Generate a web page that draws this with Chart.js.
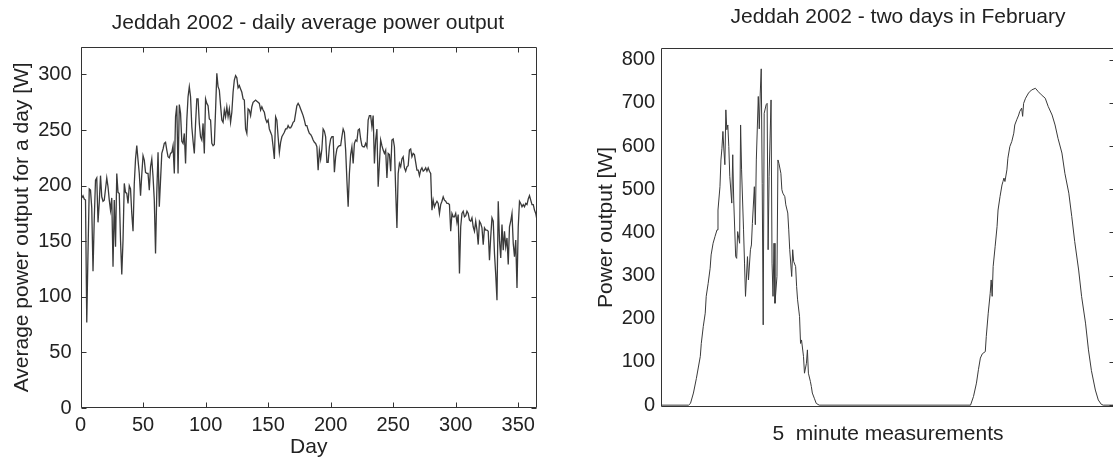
<!DOCTYPE html>
<html><head><meta charset="utf-8">
<script src="https://cdn.jsdelivr.net/npm/chart.js@4.4.1/dist/chart.umd.min.js"></script>
<style>
html,body{margin:0;padding:0;background:#fff;overflow:hidden;width:1113px;height:460px;position:relative;}
#c1{position:absolute;left:0;top:0;}
#c2{position:absolute;left:590px;top:0;}
</style></head><body>
<canvas id="c1" width="616" height="460"></canvas>
<canvas id="c2" width="616" height="460"></canvas>
<script>
// ---- Left chart: daily average power output (W), day 1..365 ----
const dailyPower = [
189,191,188,187,77,140,197,196,180,123,
170,205,207,167,185,209,190,186,187,197,
207,199,187,178,189,127,187,145,211,194,
193,151,120,151,202,194,193,184,200,197,
175,159,202,224,236,223,211,191,210,227,
223,212,211,211,196,217,224,208,187,139,
194,230,181,205,229,233,238,239,232,226,
225,229,230,236,211,262,272,211,273,265,
240,238,247,220,259,280,289,280,253,240,
229,256,278,278,256,244,241,256,229,278,
274,272,260,259,238,236,237,268,301,289,
286,272,259,257,268,262,271,262,269,257,
266,284,295,299,297,288,290,287,284,278,
277,251,247,269,268,263,271,275,276,277,
276,275,274,268,271,268,266,260,257,259,
251,248,245,235,224,262,259,244,230,239,
244,246,248,251,251,254,252,252,254,257,
258,265,272,274,272,269,266,263,259,254,
254,250,247,246,244,241,239,238,235,214,
232,224,233,251,249,244,221,221,235,242,
244,244,212,226,233,235,236,236,244,251,
248,232,205,181,211,228,235,220,238,241,
240,250,251,242,236,235,235,238,235,259,
263,263,253,263,220,241,251,199,220,241,
236,232,229,232,207,229,228,213,241,242,
235,196,162,211,220,217,224,226,216,213,
217,218,232,233,226,229,228,221,214,214,
209,214,216,213,214,216,213,216,213,211,
178,187,181,184,186,184,175,183,186,190,
187,186,184,184,183,159,175,172,172,175,
167,174,121,163,175,177,172,173,177,175,
169,168,171,163,159,168,160,147,168,166,
162,147,162,160,160,159,133,154,171,168,
139,120,97,186,151,135,165,142,159,145,
153,129,163,168,175,148,136,151,108,163,
186,184,181,183,181,184,183,188,191,187,
183,183,178,175,169
];
const days = dailyPower.map((_, i) => i + 1);
const dayTicks = [0, 50, 100, 150, 200, 250, 300, 350];
const dailyTicks = [0, 50, 100, 150, 200, 250, 300];

// ---- Right chart: two days in February, 5-minute measurements ----
const sampleIndex = [
0,28,30,33,36,40,41,43,45,46,48,50,51,53,55,57,58,60,61,62,
63,64,65,66,67,68,69,70,72,73,74,76,77,78,80,81,82,84,85,86,
88,89,91,92,93,95,96,97,99,100,101,102,103,104,105,107,108,109,110,112,
113,114,115,116,118,119,120,122,123,124,126,127,129,130,131,133,134,135,137,138,
139,141,142,143,145,146,148,149,150,152,153,154,156,158,161,
315,318,321,323,325,327,330,331,333,335,336,337,338,340,342,343,345,347,348,349,
350,352,353,355,357,359,360,362,364,365,367,368,369,371,374,377,381,384,387,391,
394,398,401,404,408,411,415,418,421,425,428,432,435,438,442,445,448,450,462
];
const samplePower = [
0,0,4,28,62,113,143,182,213,252,282,317,348,375,391,406,452,506,568,595,
634,591,557,684,638,649,599,530,468,580,475,344,340,402,375,649,545,406,329,252,
344,290,360,371,421,506,418,568,715,640,723,779,514,186,676,696,699,360,530,707,
329,252,375,236,298,568,560,537,499,491,483,464,445,406,360,298,360,333,321,275,
244,205,143,151,113,74,97,128,74,55,43,28,16,4,0,
0,20,51,82,109,119,124,159,213,259,290,252,321,367,414,452,483,510,518,526,
518,545,572,599,611,630,649,661,672,680,688,669,699,711,723,730,734,726,719,711,
692,672,649,618,584,537,491,437,379,313,252,190,128,80,35,12,2,0,0
];
const powerTicks = [0, 100, 200, 300, 400, 500, 600, 700, 800];

const TXT = '#222';
const LINE = '#3a3a3a';
Chart.defaults.font.family = "'Liberation Sans', Arial, Helvetica, sans-serif";
Chart.defaults.color = TXT;

const boxPlugin = {
  id: 'boxTicks',
  afterDraw(chart, args, o) {
    const {ctx, chartArea: a, scales} = chart;
    const l = Math.round(a.left) + 0.5, r = Math.round(a.right) - 0.5;
    const t = Math.round(a.top) + 0.5, b = Math.round(a.bottom) - 0.5;
    ctx.save();
    ctx.strokeStyle = o.color;
    ctx.lineWidth = 1;
    ctx.beginPath();
    ctx.rect(l, t, r - l, b - t);
    const L = o.len;
    if (o.xInward) {
      scales.x.ticks.forEach(tk => {
        const p = Math.round(scales.x.getPixelForValue(tk.value)) + 0.5;
        ctx.moveTo(p, b); ctx.lineTo(p, b - L);
        ctx.moveTo(p, t); ctx.lineTo(p, t + L);
      });
    }
    scales.y.ticks.forEach(tk => {
      const p = Math.round(scales.y.getPixelForValue(tk.value)) + 0.5;
      if (o.yLeft) { ctx.moveTo(l, p); ctx.lineTo(l + L, p); }
      if (o.yRight) { ctx.moveTo(r, p); ctx.lineTo(r - L, p); }
    });
    ctx.stroke();
    ctx.restore();
  }
};

const noGrid = {display: false, drawTicks: false};

const dummyRight = (w) => ({
  type: 'linear', position: 'right', min: 0, max: 1, display: true,
  grid: noGrid, border: {display: false},
  ticks: {display: false}, title: {display: false},
  afterFit: s => { s.width = w; }
});

new Chart(document.getElementById('c1'), {
  type: 'line',
  data: {
    datasets: [{
      data: dailyPower.map((v, i) => ({x: days[i], y: v})),
      borderColor: LINE, borderWidth: 1.3, pointRadius: 0, tension: 0, fill: false
    }]
  },
  options: {
    responsive: false, animation: false, events: [],
    layout: {padding: 0},
    plugins: {
      legend: {display: false}, tooltip: {enabled: false},
      title: {display: true, text: 'Jeddah 2002 - daily average power output',
        font: {size: 21, weight: 'normal'}, color: TXT, padding: {top: 10.5, bottom: 11}},
      boxTicks: {color: '#333', len: 5, xInward: true, yLeft: true, yRight: true}
    },
    scales: {
      x: {
        type: 'linear', min: 0, max: 365,
        grid: noGrid, border: {display: false},
        afterBuildTicks: s => { s.ticks = dayTicks.map(v => ({value: v})); },
        ticks: {font: {size: 20}, color: TXT, padding: 5, maxRotation: 0, autoSkip: false},
        title: {display: true, text: 'Day', font: {size: 21}, color: TXT, padding: {top: 0, bottom: 0}},
        afterFit: s => { s.height = 52; }
      },
      y: {
        type: 'linear', position: 'left', min: 0, max: 325,
        grid: noGrid, border: {display: false},
        afterBuildTicks: s => { s.ticks = dailyTicks.map(v => ({value: v})); },
        ticks: {font: {size: 20}, color: TXT, padding: 9, autoSkip: false},
        title: {display: true, text: 'Average power output for a day [W]', font: {size: 21}, color: TXT, padding: {top: 9.4, bottom: 0}},
        afterFit: s => { s.width = 80.5; }
      },
      yR: dummyRight(79)
    }
  },
  plugins: [boxPlugin]
});

new Chart(document.getElementById('c2'), {
  type: 'line',
  data: {
    datasets: [{
      data: samplePower.map((v, i) => ({x: sampleIndex[i], y: v})),
      borderColor: LINE, borderWidth: 1, pointRadius: 0, tension: 0, fill: false
    }]
  },
  options: {
    responsive: false, animation: false, events: [],
    layout: {padding: 0},
    plugins: {
      legend: {display: false}, tooltip: {enabled: false},
      title: {display: true, text: 'Jeddah 2002 - two days in February',
        font: {size: 21, weight: 'normal'}, color: TXT, padding: {top: 4.4, bottom: 18.1}},
      boxTicks: {color: '#333', len: 5, xInward: false, yLeft: false, yRight: true}
    },
    scales: {
      x: {
        type: 'linear', min: 0, max: 462,
        grid: noGrid, border: {display: false},
        ticks: {display: false},
        title: {display: true, text: '5  minute measurements', font: {size: 21}, color: TXT, padding: {top: 0, bottom: 13.4}},
        afterFit: s => { s.height = 52.7; }
      },
      y: {
        type: 'linear', position: 'left', min: -5, max: 828,
        grid: noGrid, border: {display: false},
        afterBuildTicks: s => { s.ticks = powerTicks.map(v => ({value: v})); },
        ticks: {font: {size: 20}, color: TXT, padding: 6, autoSkip: false},
        title: {display: true, text: 'Power output [W]', font: {size: 21}, color: TXT, padding: {top: 3.4, bottom: 0}},
        afterFit: s => { s.width = 71; }
      },
      yR: dummyRight(91)
    }
  },
  plugins: [boxPlugin]
});
</script>
</body></html>
